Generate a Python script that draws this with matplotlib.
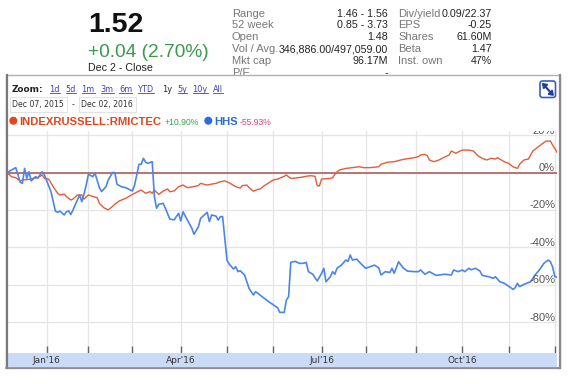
import matplotlib
matplotlib.use("Agg")
import matplotlib.pyplot as plt
import matplotlib.transforms as mtransforms
from matplotlib.patches import Rectangle, Circle, FancyBboxPatch, Polygon
from matplotlib.lines import Line2D
import pandas as pd

# ---- data (x = trading session number since Dec 07, 2015; y = % change) ----
holidays = ['2015-12-25', '2016-01-01', '2016-01-18', '2016-02-15', '2016-03-25',
            '2016-05-30', '2016-07-04', '2016-09-05', '2016-11-24']

red_day = [0, 2, 4, 6, 7, 10, 12, 14, 16, 17, 19, 21, 23, 24, 26, 27, 29, 30, 32, 34,
           35, 37, 39, 41, 42, 44, 46, 47, 49, 51, 54, 57, 60, 61, 63, 65, 66, 67, 69, 71,
           73, 74, 76, 78, 80, 82, 85, 87, 88, 91, 93, 95, 97, 99, 101, 104, 106, 107, 109, 110,
           112, 114, 115, 117, 119, 121, 123, 126, 127, 129, 132, 134, 136, 138, 140, 141, 142, 143, 145, 147,
           148, 149, 150, 151, 154, 157, 160, 162, 165, 169, 170, 173, 176, 179, 181, 185, 187, 188, 190, 191,
           192, 194, 196, 199, 201, 202, 204, 206, 207, 210, 212, 214, 216, 218, 220, 222, 223, 226, 228, 230,
           232, 233, 235, 237, 239, 241, 243, 245, 247, 248, 250]
red_pct = [0, -2.2, -2.8, -4.5, -4.0, -3.7, -3.1, -2.8, -1.3, -3.1, -3.6, -7.6, -11.1, -12.0, -11.5, -12.9, -14.7, -14.2, -12.0, -12.0,
           -14.2, -12.0, -12.8, -13.5, -16.5, -18.8, -20.0, -19.1, -17.0, -15.2, -13.8, -11.7, -9.9, -9.4, -11.1, -10.2, -11.1, -9.4, -11.7, -9.9,
           -8.8, -10.3, -9.8, -7.6, -6.7, -8.1, -7.5, -7.0, -5.8, -6.7, -6.2, -5.8, -4.9, -4.5, -5.5, -7.6, -8.3, -7.0, -6.7, -8.0,
           -10.0, -9.0, -8.8, -7.0, -5.5, -4.0, -3.5, -2.0, -1.3, -3.2, -2.8, -2.5, -2.0, -1.7, -2.0, -7.0, -7.2, -3.5, -3.3, -3.1,
           -2.8, -1.0, 0.3, 1.3, 2.2, 2.6, 3.1, 2.6, 2.6, 3.1, 4.4, 5.5, 5.8, 6.7, 7.2, 7.9, 8.5, 9.4, 9.7, 9.0,
           6.7, 5.8, 6.5, 8.3, 9.4, 11.5, 10.3, 11.5, 12.0, 12.0, 11.5, 9.0, 7.6, 6.7, 7.6, 7.2, 7.9, 5.8, 4.9, 3.1,
           2.2, 4.4, 6.7, 7.2, 11.5, 13.3, 15.1, 16.8, 16.8, 14.7, 10.9]

blue_day = [0, 4, 6, 7, 8, 9, 10, 11, 13, 14, 16, 17, 20, 22, 23, 24, 26, 27, 28, 29,
            30, 32, 33, 34, 35, 36, 37, 39, 40, 42, 43, 45, 46, 48, 49, 50, 52, 54, 57, 58,
            60, 61, 62, 63, 64, 66, 67, 68, 69, 71, 72, 74, 76, 78, 79, 80, 82, 84, 85, 87,
            88, 91, 92, 93, 95, 96, 97, 98, 100, 101, 103, 104, 105, 106, 108, 110, 112, 113, 115, 118,
            120, 123, 124, 126, 127, 128, 129, 131, 133, 135, 136, 137, 139, 141, 143, 144, 145, 147, 148, 149,
            150, 152, 154, 155, 156, 157, 159, 160, 163, 165, 167, 169, 170, 172, 174, 175, 176, 178, 180, 182,
            185, 187, 188, 190, 192, 195, 199, 202, 203, 205, 207, 208, 210, 211, 213, 215, 216, 219, 221, 222,
            224, 226, 227, 229, 230, 231, 232, 233, 235, 238, 240, 242, 244, 246, 247, 248, 249, 250]
blue_pct = [0, 2.6, -5.2, -5.8, 2.2, -3.1, 0.4, -4.5, -2.2, -3.0, 0.4, -1.3, -10.3, -20.6, -21.3, -20.6, -22.7, -21.0, -20.5, -22.4,
            -20.0, -14.7, -12.0, -15.6, -11.5, -6.7, -1.0, -2.2, -0.4, -8.1, -10.2, -7.6, -4.0, 0.0, 0.0, -6.3, -7.6, -8.1, -9.9, -6.7,
            4.4, 4.4, 7.6, 5.5, 4.9, 5.8, -12.9, -19.1, -17.0, -16.5, -19.1, -24.9, -25.3, -21.8, -25.9, -21.0, -25.4, -29.8, -33.0, -29.0,
            -24.5, -21.3, -26.3, -22.7, -23.3, -25.4, -23.6, -23.6, -46.8, -49.0, -51.6, -50.4, -53.0, -52.5, -54.8, -61.9, -65.5, -63.7, -65.5, -68.2,
            -69.9, -72.3, -74.8, -74.8, -68.2, -66.4, -48.0, -47.5, -48.6, -48.5, -48.0, -53.0, -54.4, -58.0, -53.9, -51.2, -58.4, -55.7, -53.0, -54.4,
            -51.2, -49.5, -46.8, -47.5, -44.1, -46.8, -46.3, -47.7, -51.2, -50.4, -49.5, -51.0, -54.8, -53.0, -53.5, -51.2, -53.9, -47.7, -50.9, -52.7,
            -53.0, -53.0, -52.1, -54.4, -53.0, -55.0, -54.4, -54.8, -52.1, -53.0, -52.1, -53.0, -51.2, -52.0, -51.2, -52.7, -55.0, -55.7, -56.6, -55.7,
            -58.4, -59.2, -60.0, -61.6, -62.5, -61.6, -59.2, -61.0, -59.8, -58.4, -54.8, -52.1, -48.6, -46.8, -47.7, -50.5, -55.7, -55.93]

y_ticks = [20, 0, -20, -40, -60, -80]
labelled_months = [1, 4, 7, 10]

price = '1.52'
change = '+0.04 (2.70%)'
close_note = 'Dec 2 - Close'
stat_labels1 = ['Range', '52 week', 'Open', 'Vol / Avg.', 'Mkt cap', 'P/E']
stat_values1 = ['1.46 - 1.56', '0.85 - 3.73', '1.48', '346,886.00/497,059.00', '96.17M', '-']
stat_labels2 = ['Div/yield', 'EPS', 'Shares', 'Beta', 'Inst. own']
stat_values2 = ['0.09/22.37', '-0.25', '61.60M', '1.47', '47%']
zoom_links = ['1d', '5d', '1m', '3m', '6m', 'YTD', '1y', '5y', '10y', 'All']
zoom_x = [49.5, 65.5, 81.5, 100.5, 119, 138, 162, 177.5, 192.5, 213]
series_names = ['INDEXRUSSELL:RMICTEC', 'HHS']
series_change = ['+10.90%', '-55.93%']

# trading calendar -> month tick positions
sessions = pd.bdate_range('2015-12-07', '2016-12-02', freq='C', holidays=holidays)
month_starts = pd.date_range('2016-01-01', '2016-12-01', freq='MS')
month_pos = sessions.searchsorted(month_starts)

W, H = 571, 384
fig = plt.figure(figsize=(W / 100, H / 100), dpi=100)
pt = mtransforms.Affine2D().scale(1 / W, -1 / H).translate(0, 1) + fig.transFigure


def T(x, y, s, **kw):
    return fig.text(x / W, 1 - y / H, s, **kw)


HDR = 'Liberation Sans'
UI = 'DejaVu Sans'

# ---- header ----
T(88, 31.7, price, fontsize=20.5, fontweight='bold', family=HDR, color='#111', va='baseline', zorder=3)
T(88, 56.7, change, fontsize=13.8, family=HDR, color='#3a9a4c', va='baseline', zorder=3)
T(88, 70.7, close_note, fontsize=7.7, family=HDR, color='#222', va='baseline', zorder=3)
row_y = [16.7, 28.5, 40.3, 52.1, 63.9, 75.7]
for i, (lab, val) in enumerate(zip(stat_labels1, stat_values1)):
    T(231.7, row_y[i], lab, fontsize=8, family=HDR, color='#777', va='baseline', zorder=3)
    T(388, row_y[i], val, fontsize=7.7, family=HDR, color='#222', ha='right', va='baseline', zorder=3)
for i, (lab, val) in enumerate(zip(stat_labels2, stat_values2)):
    T(398, row_y[i], lab, fontsize=8, family=HDR, color='#777', va='baseline', zorder=3)
    T(491.7, row_y[i], val, fontsize=7.7, family=HDR, color='#222', ha='right', va='baseline', zorder=3)

# ---- chart box ----
fig.add_artist(Rectangle((6, 74.5), 554, 293, transform=pt, facecolor='white',
                         edgecolor='#b0b0b0', lw=1, zorder=4))
fig.add_artist(Line2D([6.5, 6.5], [74.5, 367.5], transform=pt, color='#7a7a7a', lw=1.6, zorder=8))
fig.add_artist(Line2D([560, 560], [74.5, 367.5], transform=pt, color='#8a8a8a', lw=1.6, zorder=8))
fig.add_artist(Line2D([6, 560], [367.5, 367.5], transform=pt, color='#8a8a8a', lw=1.2, zorder=8))

T(12, 91.7, 'Zoom:', fontsize=6.4, fontweight='bold', family=UI, color='#222', va='baseline', zorder=6)
links = []
for lab, x in zip(zoom_links, zoom_x):
    col = '#222' if lab == '1y' else '#3f3fc0'
    t = T(x, 91.7, lab, fontsize=5.9, family=UI, color=col, va='baseline', zorder=6)
    if lab != '1y':
        links.append(t)

for x0, w, s in [(10, 57, 'Dec 07, 2015'), (79, 57, 'Dec 02, 2016')]:
    fig.add_artist(Rectangle((x0, 96.5), w, 15.5, transform=pt, facecolor='none',
                             edgecolor='#e2e2e2', lw=0.8, zorder=6))
    T(x0 + 2, 107.5, s, fontsize=5.6, family=UI, color='#333', va='baseline', zorder=6)
T(72, 107.5, '-', fontsize=5.8, family=UI, color='#333', va='baseline', zorder=6)

fig.add_artist(Circle((13.3, 120.7), 3.3, transform=pt, color='#e0461e', zorder=6))
T(19.3, 125, series_names[0], fontsize=8.1, fontweight='bold', family=HDR, color='#e0461e', va='baseline', zorder=6)
T(165, 125, series_change[0], fontsize=6.2, family=HDR, color='#3aa040', va='baseline', zorder=6)
fig.add_artist(Circle((208.3, 120.7), 3.3, transform=pt, color='#2b6ae0', zorder=6))
T(214, 125, series_names[1], fontsize=8.1, fontweight='bold', family=HDR, color='#2b6ae0', va='baseline', zorder=6)
T(239.5, 125, series_change[1], fontsize=6.2, family=HDR, color='#d6457a', va='baseline', zorder=6)

# expand icon
fig.add_artist(FancyBboxPatch((540, 81), 15.5, 16.5, boxstyle='round,pad=0,rounding_size=2.5',
                              transform=pt, facecolor='white', edgecolor='#3a5cc0', lw=1.2, zorder=6))
fig.add_artist(Line2D([545, 550.5], [86, 92.5], transform=pt, color='#1f3f9f', lw=1.5, zorder=7))
fig.add_artist(Polygon([(542.6, 83.6), (547.6, 84.6), (543.6, 88.6)], transform=pt,
                       color='#1f3f9f', zorder=7))
fig.add_artist(Polygon([(553.2, 95.2), (548.2, 94.2), (552.2, 90.2)], transform=pt,
                       color='#1f3f9f', zorder=7))

# ---- plot ----
ax = fig.add_axes([7 / W, 1 - 353 / H, 550 / W, 222 / H], zorder=5)
ax.set_facecolor('white')
ax.set_xlim(0, 250)
ax.set_ylim(-96.5, 22.2)
for s in ax.spines.values():
    s.set_visible(False)
ax.set_xticks(month_pos)
ax.set_yticks(y_ticks)
ax.tick_params(axis='x', direction='in', length=5, width=1, color='#666', labelbottom=False)
ax.tick_params(axis='y', length=0, labelleft=False)
ax.grid(True, color='#e6e6e6', lw=1)
ax.set_axisbelow(True)
ax.axhline(0, color='#a4544e', lw=1.1, zorder=1.5)

ax.plot(red_day, red_pct, color='#e25c3c', lw=1.0, zorder=2)
ax.plot(blue_day, blue_pct, color='#4a86e8', lw=1.2, zorder=3)

ytrans = mtransforms.offset_copy(
    mtransforms.blended_transform_factory(ax.transAxes, ax.transData), fig, y=1.5, units='dots')
for v in y_ticks:
    ax.text(1 - 2 / 550, v, f'{v}%', transform=ytrans, ha='right', va='baseline',
            fontsize=8, family=HDR, color='#555', clip_on=True, zorder=4)

# ---- bottom date band ----
bx = fig.add_axes([7 / W, 1 - 367 / H, 550 / W, 14 / H], zorder=5)
bx.set_facecolor('#c9dbf6')
bx.set_xlim(ax.get_xlim())
bx.set_ylim(0, 1)
bx.set_xticks([])
bx.set_yticks([])
for s in bx.spines.values():
    s.set_visible(False)
for m, pos in zip(month_starts, month_pos):
    if m.month in labelled_months:
        bx.text(pos, 0.45, m.strftime("%b'%y"), ha='center', va='center',
                fontsize=6.5, family=UI, color='#333')

# underline the zoom links
fig.canvas.draw()
r = fig.canvas.get_renderer()
for t in links:
    bb = t.get_window_extent(r)
    fig.add_artist(Line2D([bb.x0 / W, bb.x1 / W], [(bb.y0 + 1.2) / H] * 2,
                          transform=fig.transFigure, color='#3f3fc0', lw=0.6, zorder=6))

fig.savefig('out.png', dpi=100)
